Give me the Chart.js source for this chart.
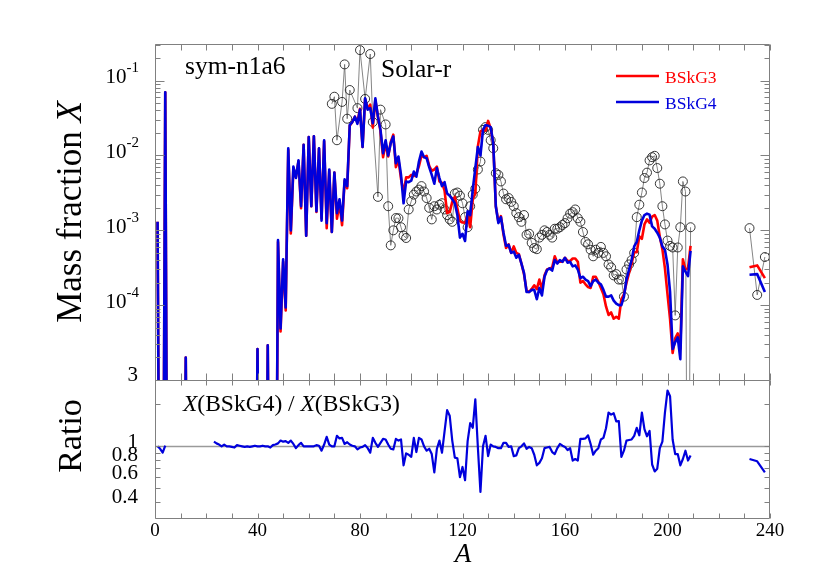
<!DOCTYPE html>
<html>
<head>
<meta charset="utf-8">
<script src="https://cdn.jsdelivr.net/npm/chart.js@4.4.1/dist/chart.umd.min.js"></script>
<style>
  html, body { margin: 0; padding: 0; background: #fff; }
  #wrap { width: 830px; height: 587px; }
</style>
</head>
<body>
<div id="wrap"><canvas id="chart" width="830" height="587"></canvas></div>
<script>
// ---- data (mass number A -> mass fraction X) ----
// 1e-9 marks abundances far below the axis (line drops off the panel)
const firstA = 1;
const bskg4 = [
  1.3e-3, 1e-9, 1e-9, 7.0e-2, 1e-9, 1e-9, 1e-9, 1e-9, 1e-9, 1e-9,
  1e-9, 2.0e-5, 1e-9, 1e-9, 1e-9, 1e-9, 1e-9, 1e-9, 1e-9, 1e-9,
  1e-9, 1e-9, 1e-9, 1e-9, 1e-9, 1e-9, 1e-9, 1e-9, 1e-9, 1e-9,
  1e-9, 1e-9, 1e-9, 1e-9, 1e-9, 1e-9, 1e-9, 1e-9, 1e-9, 2.6e-5,
  1e-9, 1e-9, 1e-9, 2.9e-5, 1e-9, 1e-9, 1e-9, 7.4e-4, 4.9e-5, 4.1e-4,
  9.3e-5, 1.25e-2, 1.0e-3, 7.1e-3, 5.0e-3, 8.6e-3, 2.1e-3, 1.39e-2, 8.5e-4, 1.76e-2,
  2.1e-3, 1.8e-2, 1.8e-3, 1.25e-2, 1.35e-3, 1.6e-2, 1.25e-3, 6.5e-3, 9.5e-4, 5.9e-3,
  1.7e-3, 2.6e-3, 1.35e-3, 4.8e-3, 3.9e-3, 2.56e-2, 2.8e-2, 3.3e-2, 2.65e-2, 4.1e-2,
  1.3e-2, 5.8e-2, 4.1e-2, 4.3e-2, 2.7e-2, 5.8e-2, 3.3e-2, 2.2e-2, 1.07e-2, 1.6e-2,
  1.0e-2, 1.46e-2, 1.8e-2, 7.9e-3, 9.7e-3, 5.5e-3, 2.3e-3, 4.5e-3, 4.4e-3, 4.6e-3,
  6.1e-3, 5.2e-3, 8.3e-3, 1.13e-2, 9.5e-3, 9.2e-3, 7.0e-3, 5.5e-3, 4.2e-3, 6.8e-3,
  5.0e-3, 3.9e-3, 4.4e-3, 3.1e-3, 2.9e-3, 2.6e-3, 2.3e-3, 1.6e-3, 8.0e-4, 9.0e-4,
  7.2e-4, 1.8e-3, 1.6e-3, 3.5e-3, 6.8e-3, 1.3e-2, 1.0e-2, 2.2e-2, 2.56e-2, 2.5e-2,
  2.4e-2, 1.45e-2, 2.1e-3, 1.25e-3, 1.5e-3, 9.3e-4, 6.2e-4, 6.4e-4, 5.0e-4, 5.2e-4,
  4.3e-4, 4.7e-4, 3.6e-4, 2.7e-4, 1.5e-4, 1.5e-4, 1.6e-4, 1.6e-4, 1.2e-4, 1.7e-4,
  1.35e-4, 2.4e-4, 2.95e-4, 3.1e-4, 2.9e-4, 4.0e-4, 3.6e-4, 4.0e-4, 3.8e-4, 4.3e-4,
  3.7e-4, 3.8e-4, 3.3e-4, 3.4e-4, 3.0e-4, 2.3e-4, 2.4e-4, 2.2e-4, 2.1e-4, 1.8e-4,
  2.1e-4, 2.2e-4, 2.0e-4, 1.9e-4, 1.6e-4, 1.3e-4, 1.3e-4, 1.35e-4, 1.15e-4, 1.05e-4,
  1.0e-4, 1.0e-4, 1.3e-4, 2.2e-4, 3.0e-4, 4.0e-4, 6.1e-4, 7.0e-4, 1.0e-3, 1.35e-3,
  1.6e-3, 1.67e-3, 1.62e-3, 1.13e-3, 1.05e-3, 9.3e-4, 8.0e-4, 6.1e-4, 5.5e-4, 3.5e-4,
  1.5e-4, 2.6e-5, 3.2e-5, 3.7e-5, 1.9e-5, 3.3e-4, 2.8e-4, 2.45e-4, 5.3e-4
];
const bskg3 = [
  1.3e-3, 1e-9, 1e-9, 7.0e-2, 1e-9, 1e-9, 1e-9, 1e-9, 1e-9, 1e-9,
  1e-9, 2.0e-5, 1e-9, 1e-9, 1e-9, 1e-9, 1e-9, 1e-9, 1e-9, 1e-9,
  1e-9, 1e-9, 1e-9, 1e-9, 1e-9, 1e-9, 1e-9, 1e-9, 1e-9, 1e-9,
  1e-9, 1e-9, 1e-9, 1e-9, 1e-9, 1e-9, 1e-9, 1e-9, 1e-9, 2.6e-5,
  1e-9, 1e-9, 1e-9, 2.9e-5, 1e-9, 1e-9, 1e-9, 7.0e-4, 4.45e-5, 3.8e-4,
  8.5e-5, 1.18e-2, 9.1e-4, 6.8e-3, 5.15e-3, 8.4e-3, 1.98e-3, 1.39e-2, 8.5e-4, 1.76e-2,
  2.1e-3, 1.8e-2, 1.76e-3, 1.24e-2, 1.45e-3, 1.55e-2, 1.07e-3, 6.3e-3, 9.5e-4, 5.9e-3,
  1.43e-3, 2.3e-3, 1.17e-3, 4.6e-3, 3.65e-3, 2.5e-2, 2.8e-2, 3.3e-2, 2.8e-2, 4.2e-2,
  1.3e-2, 5.7e-2, 4.2e-2, 4.8e-2, 2.35e-2, 5.5e-2, 3.3e-2, 2.1e-2, 9.5e-3, 1.43e-2,
  9.7e-3, 1.52e-2, 1.9e-2, 7.0e-3, 8.8e-3, 4.9e-3, 3.15e-3, 5.1e-3, 5.1e-3, 5.5e-3,
  5.3e-3, 5.7e-3, 7.2e-3, 1.0e-2, 9.5e-3, 9.9e-3, 7.3e-3, 6.25e-3, 6.5e-3, 7.1e-3,
  4.5e-3, 4.3e-3, 3.4e-3, 1.7e-3, 1.75e-3, 2.4e-3, 2.8e-3, 1.95e-3, 1.33e-3, 1.27e-3,
  1.26e-3, 1.65e-3, 1.1e-3, 2.6e-3, 3.1e-3, 1.33e-2, 2.1e-2, 2.2e-2, 2.15e-2, 2.9e-2,
  2.3e-2, 1.45e-2, 2.1e-3, 1.3e-3, 1.55e-3, 8.8e-4, 5.8e-4, 6.5e-4, 5.0e-4, 6.1e-4,
  5.0e-4, 4.8e-4, 3.6e-4, 2.6e-4, 1.56e-4, 1.5e-4, 1.65e-4, 1.84e-4, 1.64e-4, 2.2e-4,
  1.65e-4, 2.5e-4, 3.0e-4, 3.1e-4, 3.2e-4, 4.5e-4, 3.7e-4, 3.85e-4, 3.8e-4, 4.3e-4,
  3.9e-4, 3.9e-4, 4.2e-4, 4.2e-4, 3.8e-4, 2.0e-4, 2.1e-4, 1.9e-4, 1.75e-4, 1.7e-4,
  2.4e-4, 2.4e-4, 2.05e-4, 1.7e-4, 1.4e-4, 9.6e-5, 7.4e-5, 8.0e-5, 6.6e-5, 7.0e-5,
  6.6e-5, 1.2e-4, 1.4e-4, 2.0e-4, 2.7e-4, 3.6e-4, 5.1e-4, 5.1e-4, 8.3e-4, 7.7e-4,
  1.2e-3, 1.4e-3, 1.26e-3, 1.53e-3, 1.6e-3, 1.35e-3, 8.2e-4, 5.6e-4, 3.1e-4, 1.4e-4,
  6.5e-5, 2.3e-5, 3.6e-5, 4.2e-5, 2.6e-5, 4.1e-4, 3.0e-4, 3.1e-4, 6.2e-4
];
// actinides
const actinideA = [232, 235, 238];
const bskg4Act = [2.55e-4, 2.6e-4, 1.5e-4];
const bskg3Act = [3.2e-4, 3.4e-4, 2.3e-4];

// solar r-process residuals
const solarA = [
  69, 70, 71, 73, 74, 75, 76, 79, 80, 82, 84, 85, 87, 88, 90, 91, 92, 93, 94, 95,
  96, 97, 98, 99, 100, 101, 102, 103, 104, 105, 106, 107, 108, 109, 110, 111, 112, 113, 114, 115,
  116, 117, 118, 119, 120, 121, 122, 123, 124, 125, 126, 127, 128, 129, 130, 131, 132, 133, 134, 135,
  136, 137, 138, 139, 140, 141, 142, 143, 144, 145, 146, 147, 148, 149, 150, 151, 152, 153, 154, 155,
  156, 157, 158, 159, 160, 161, 162, 163, 164, 165, 166, 167, 168, 169, 170, 171, 172, 173, 174, 175,
  176, 177, 178, 179, 180, 181, 182, 183, 184, 185, 186, 187, 188, 189, 190, 191, 192, 193, 194, 195,
  196, 197, 198, 199, 200, 201, 202, 203, 204, 205, 206, 207, 208, 209, 232, 235, 238
];
const solarX = [
  4.9e-2, 6.1e-2, 1.6e-2, 5.2e-2, 1.65e-1, 3.1e-2, 7.5e-2, 4.3e-2, 2.56e-1, 5.7e-2,
  2.27e-1, 2.8e-2, 2.8e-3, 4.1e-2, 2.6e-2, 2.1e-3, 6.3e-4, 1.0e-3, 1.46e-3, 1.45e-3,
  1.1e-3, 8.5e-4, 7.9e-4, 1.9e-3, 2.45e-3, 3.0e-3, 3.3e-3, 3.5e-3, 3.9e-3, 3.3e-3,
  2.7e-3, 2.0e-3, 1.4e-3, 2.1e-3, 1.9e-3, 2.2e-3, 2.3e-3, 1.9e-3, 1.6e-3, 1.4e-3,
  1.3e-3, 3.1e-3, 3.2e-3, 2.9e-3, 2.3e-3, 1.5e-3, 1.1e-3, 2.1e-3, 3.0e-3, 3.6e-3,
  6.5e-3, 8.3e-3, 2.2e-2, 2.4e-2, 2.2e-2, 1.6e-2, 1.25e-2, 5.8e-3, 5.5e-3, 4.5e-3,
  3.1e-3, 2.6e-3, 2.7e-3, 2.4e-3, 2.1e-3, 1.7e-3, 1.5e-3, 1.3e-3, 1.6e-3, 8.7e-4,
  9.0e-4, 6.8e-4, 5.8e-4, 5.6e-4, 8.0e-4, 8.7e-4, 1.0e-3, 9.5e-4, 8.7e-4, 8.0e-4,
  1.05e-3, 1.05e-3, 1.1e-3, 1.18e-3, 1.25e-3, 1.45e-3, 1.67e-3, 1.75e-3, 1.9e-3, 1.45e-3,
  1.3e-3, 9.5e-4, 7.0e-4, 6.5e-4, 5.5e-4, 4.5e-4, 5.5e-4, 5.0e-4, 6.0e-4, 5.0e-4,
  4.5e-4, 3.5e-4, 3.2e-4, 2.5e-4, 2.6e-4, 2.2e-4, 2.2e-4, 1.3e-4, 3.0e-4, 3.5e-4,
  4.0e-4, 5.0e-4, 1.5e-3, 2.2e-3, 3.2e-3, 5.0e-3, 5.9e-3, 8.6e-3, 9.5e-3, 9.9e-3,
  6.8e-3, 4.2e-3, 2.1e-3, 1.2e-3, 7.3e-4, 6.2e-4, 5.9e-4, 7.3e-5, 5.9e-4, 1.1e-3,
  4.5e-3, 3.3e-3, 1e-9, 1.1e-3, 1.07e-3, 1.37e-4, 4.4e-4
];

// ratio X(BSkG4)/X(BSkG3)
const ratioLowA = 1;
const ratioLow = [1.0, 0.96, 0.9, 1.01];
const ratioStartA = 23;
const ratioMain = [
  1.08, 1.05, 1.03, 1.0, 1.03, 1.0, 1.0, 0.99,
  0.98, 1.02, 1.01, 1.0, 0.99, 1.0, 0.99, 1.0, 1.01, 1.0,
  1.0, 1.01, 1.0, 1.0, 0.98, 1.02, 1.03, 1.05, 1.1, 1.08,
  1.09, 1.06, 1.1, 1.04, 0.97, 1.02, 1.06, 1.0, 1.0, 1.0,
  1.0, 1.0, 1.02, 1.01, 0.93, 1.03, 1.17, 1.03, 1.0, 1.0,
  1.19, 1.14, 1.15, 1.04, 1.07, 1.03, 1.01, 1.0, 0.95, 0.98,
  0.99, 1.02, 0.97, 0.9, 1.15, 1.06, 0.99, 1.06, 1.13, 1.12,
  1.03, 0.96, 0.95, 1.13, 1.1, 1.12, 0.73, 0.89, 0.87, 0.84,
  1.15, 0.91, 1.15, 1.12, 1.0, 0.93, 0.96, 0.88, 0.65, 0.96,
  1.1, 0.9, 1.28, 1.82, 1.66, 1.1, 0.83, 0.82, 0.6, 0.71,
  0.57, 1.09, 1.47, 1.36, 2.18, 0.98, 0.47, 1.0, 1.19, 0.85,
  1.03, 1.0, 0.99, 0.97, 0.97, 1.06, 1.06, 0.99, 1.0, 0.85,
  0.86, 0.97, 1.0, 1.05, 0.96, 0.99, 0.97, 0.87, 0.73, 0.76,
  0.82, 0.97, 0.98, 0.99, 0.91, 0.88, 0.97, 1.04, 1.01, 0.99,
  0.94, 0.97, 0.79, 0.81, 0.79, 1.13, 1.13, 1.14, 1.2, 1.04,
  0.87, 0.93, 0.97, 1.12, 1.15, 1.35, 1.75, 1.69, 1.73, 1.51,
  1.52, 0.84, 0.93, 1.1, 1.11, 1.12, 1.19, 1.36, 1.2, 1.75,
  1.33, 1.18, 1.29, 0.74, 0.66, 0.69, 0.97, 1.08, 1.75, 2.52,
  2.29, 1.12, 0.88, 0.88, 0.73, 0.81, 0.93, 0.79, 0.86
];
const ratioAct = [0.81, 0.78, 0.65];

// axes
const xTickLabels = [0, 40, 80, 120, 160, 200, 240];
const massLabelExps = [-1, -2, -3, -4];
const ratioTicks = [2, 1, 0.9, 0.8, 0.7, 0.6, 0.5, 0.4];
const ratioLabels = [1, 0.8, 0.6, 0.4];

const SERIF = '"Liberation Serif", "Times New Roman", Times, serif';
const RED = '#ff0000';
const BLUE = '#0000dc';
const AXIS = '#808080';
Chart.defaults.font.family = SERIF;

const series = (start, values) => values.map((y, i) => ({ x: start + i, y }));
const pairs = (xs, ys) => xs.map((x, i) => ({ x, y: ys[i] }));

const font = (size, italic) => (italic ? 'italic ' : '') + size + 'px ' + SERIF;

// draw text made of plain / italic runs
function drawRuns(ctx, runs, x, y, size, align) {
  let total = 0;
  runs.forEach(r => { ctx.font = font(size, r.it); total += ctx.measureText(r.t).width; });
  let cx = align === 'center' ? x - total / 2 : x;
  ctx.textAlign = 'left';
  runs.forEach(r => {
    ctx.font = font(size, r.it);
    ctx.fillText(r.t, cx, y);
    cx += ctx.measureText(r.t).width;
  });
}

const decorations = {
  id: 'decorations',
  beforeDatasetsDraw(chart) {
    const { ctx, chartArea: a, scales: { yr } } = chart;
    const py = Math.round(yr.getPixelForValue(1)) + 0.5;
    ctx.save();
    ctx.strokeStyle = '#9a9a9a';
    ctx.lineWidth = 1.4;
    ctx.beginPath();
    ctx.moveTo(a.left, py);
    ctx.lineTo(a.right, py);
    ctx.stroke();
    ctx.restore();
  },
  afterDatasetsDraw(chart) {
    const { ctx, chartArea: a, scales: { x, y, yr } } = chart;
    const L = Math.round(a.left) + 0.5, R = Math.round(a.right) - 0.5;
    const T = Math.round(y.top) + 0.5, M = Math.round(y.bottom) + 0.5, B = Math.round(yr.bottom) - 0.5;
    const seg = (x1, y1, x2, y2) => { ctx.beginPath(); ctx.moveTo(x1, y1); ctx.lineTo(x2, y2); ctx.stroke(); };

    ctx.save();
    ctx.strokeStyle = AXIS;
    ctx.lineWidth = 1;
    // frames
    seg(L, T, R, T); seg(L, M, R, M); seg(L, B, R, B);
    seg(L, T, L, B); seg(R, T, R, B);

    // x ticks every 10
    for (let v = x.min; v <= x.max; v += 10) {
      const px = Math.round(x.getPixelForValue(v)) + 0.5;
      seg(px, T, px, T + 6);
      seg(px, M, px, M - 7);
      seg(px, M, px, M + 5);
      seg(px, B, px, B - 5);
    }
    // top panel log ticks
    for (let e = -5; e <= -1; e++) {
      for (let m = 1; m <= 9; m++) {
        const v = m * Math.pow(10, e);
        if (v < y.min || v > y.max) continue;
        const py = Math.round(y.getPixelForValue(v)) + 0.5;
        const len = m === 1 ? 9 : 5;
        seg(L, py, L + len, py);
        seg(R, py, R - len, py);
      }
    }
    // ratio ticks
    ratioTicks.forEach(v => {
      const py = Math.round(yr.getPixelForValue(v)) + 0.5;
      seg(L, py, L + 5, py);
      seg(R, py, R - 5, py);
    });

    // tick labels (y)
    ctx.fillStyle = '#000';
    ctx.textBaseline = 'alphabetic';
    ctx.textAlign = 'right';
    const labelRight = 139;
    massLabelExps.forEach(e => {
      const py = y.getPixelForValue(Math.pow(10, e));
      const sup = '-' + (-e);
      ctx.font = font(15);
      const sw = ctx.measureText(sup).width;
      ctx.textAlign = 'right';
      ctx.fillText(sup, labelRight, py - 8.5);
      ctx.font = font(21);
      ctx.fillText('10', labelRight - sw, py + 2.5);
    });
    ctx.textAlign = 'right';
    ctx.font = font(21);
    ctx.fillText('3', 138, y.bottom + 1);
    ratioLabels.forEach(v => {
      ctx.fillText(String(v), 138, yr.getPixelForValue(v) + 1.5);
    });

    // axis titles
    ctx.save();
    ctx.translate(81, 212);
    ctx.rotate(-Math.PI / 2);
    drawRuns(ctx, [{ t: 'Mass fraction ' }, { t: 'X', it: true }], 0, 0, 35, 'center');
    ctx.restore();
    ctx.save();
    ctx.translate(81, 436);
    ctx.rotate(-Math.PI / 2);
    drawRuns(ctx, [{ t: 'Ratio' }], 0, 0, 34, 'center');
    ctx.restore();
    drawRuns(ctx, [{ t: 'A', it: true }], 463, 562, 27, 'center');

    // annotations
    drawRuns(ctx, [{ t: 'sym-n1a6' }], 185, 74, 25.5);
    drawRuns(ctx, [{ t: 'Solar-r' }], 381, 77, 25.5);
    drawRuns(ctx, [{ t: 'X', it: true }, { t: '(BSkG4) / ' }, { t: 'X', it: true }, { t: '(BSkG3)' }], 183, 411, 23.5);

    // legend
    const legend = [
      { label: 'BSkG3', color: RED, y: 76 },
      { label: 'BSkG4', color: BLUE, y: 102 }
    ];
    legend.forEach(it => {
      ctx.strokeStyle = it.color;
      ctx.lineWidth = 2.6;
      seg(616, it.y, 659, it.y);
      ctx.fillStyle = it.color;
      drawRuns(ctx, [{ t: it.label }], 665, it.y + 6.5, 17.5);
    });
    ctx.restore();
  }
};

new Chart(document.getElementById('chart'), {
  type: 'line',
  data: {
    datasets: [
      {
        label: 'BSkG4',
        data: [...series(firstA, bskg4), ...pairs(actinideA, bskg4Act)],
        borderColor: BLUE,
        borderWidth: 2.6,
        yAxisID: 'y',
        order: 1,
      },
      {
        label: 'BSkG3',
        data: [...series(firstA, bskg3), ...pairs(actinideA, bskg3Act)],
        borderColor: RED,
        borderWidth: 2.6,
        yAxisID: 'y',
        order: 2,
      },
      {
        label: 'Solar-r',
        data: pairs(solarA, solarX),
        borderColor: '#666',
        borderWidth: 0.8,
        pointRadius: 4.5,
        pointBorderColor: '#222',
        pointBorderWidth: 0.9,
        pointBackgroundColor: 'rgba(255,255,255,0)',
        yAxisID: 'y',
        order: 3,
      },
      {
        label: 'Ratio',
        data: [...series(ratioLowA, ratioLow), ...series(ratioStartA, ratioMain), ...pairs(actinideA, ratioAct)],
        borderColor: BLUE,
        borderWidth: 2.2,
        yAxisID: 'yr',
        order: 1,
      },
    ],
  },
  options: {
    responsive: false,
    animation: false,
    devicePixelRatio: 1,
    layout: { padding: { top: 44, right: 60, left: 0, bottom: 0 } },
    elements: { line: { tension: 0, borderJoinStyle: 'round' } },
    datasets: { line: { spanGaps: 3, pointRadius: 0, fill: false } },
    plugins: { legend: { display: false }, tooltip: { enabled: false } },
    scales: {
      x: {
        type: 'linear',
        min: 0,
        max: 240,
        position: 'bottom',
        afterBuildTicks: s => { s.ticks = xTickLabels.map(v => ({ value: v })); },
        afterFit: s => { s.height = 68; },
        grid: { display: false, drawTicks: false },
        border: { display: false },
        ticks: { color: '#000', font: { family: SERIF, size: 19 }, padding: 1, maxRotation: 0, autoSkip: false },
      },
      y: {
        type: 'logarithmic',
        min: 1e-5,
        max: 0.309,
        position: 'left',
        stack: 'panels',
        stackWeight: 336,
        weight: 2,
        afterFit: s => { s.width = 155; },
        grid: { display: false },
        border: { display: false },
        ticks: { display: false },
      },
      yr: {
        type: 'logarithmic',
        min: 1 / 3,
        max: 3,
        position: 'left',
        stack: 'panels',
        stackWeight: 139,
        weight: 1,
        afterFit: s => { s.width = 155; },
        grid: { display: false },
        border: { display: false },
        ticks: { display: false },
      },
    },
  },
  plugins: [decorations],
});
</script>
</body>
</html>
